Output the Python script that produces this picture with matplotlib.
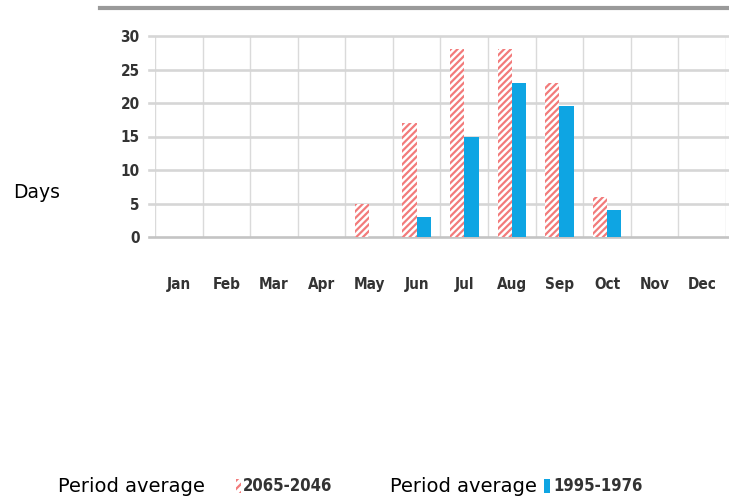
import matplotlib as mpl
from matplotlib import pyplot as plt
from matplotlib.patches import Rectangle
import numpy as np

mpl.rcParams['hatch.linewidth'] = 1.6

# data
months = ['Jan', 'Feb', 'Mar', 'Apr', 'May', 'Jun', 'Jul', 'Aug', 'Sep', 'Oct', 'Nov', 'Dec']
future = [0, 0, 0, 0, 5, 17, 28, 28, 23, 6, 0, 0]      # 2065-2046
past = [0, 0, 0, 0, 0, 3, 15, 23, 19.5, 4, 0, 0]       # 1995-1976
yticks = [0, 5, 10, 15, 20, 25, 30]

pink = '#f27b7b'
blue = '#0ea5e3'
txt = '#333333'
narrow = dict(family='DejaVu Sans', stretch='condensed', fontweight='bold', color=txt)

fig = plt.figure(figsize=(7.29, 4.97), dpi=100)
ax = fig.add_axes([155/729, 260/497, 571/729, 201/497])

x = np.arange(len(months))
w = 0.3
fut = np.array(future)
pas = np.array(past)
m1 = fut > 0
m2 = pas > 0
ax.bar(x[m1] - w/2, fut[m1], w, facecolor='white', edgecolor=pink,
       hatch='/////', linewidth=0, zorder=3)
ax.bar(x[m2] + w/2, pas[m2], w, color=blue, linewidth=0, zorder=3)

ax.set_xlim(-0.5, len(months) - 0.5)
ax.set_ylim(0, 30)
ax.set_yticks(yticks)
ax.set_yticklabels([str(v) for v in yticks], fontsize=11, **narrow)
ax.set_xticks(x)
ax.set_xticklabels(months, fontsize=11, **narrow)
ax.tick_params(axis='x', length=0, pad=29)
ax.tick_params(axis='y', length=0, pad=11)

for s in ax.spines.values():
    s.set_visible(False)

# grid
for b in np.arange(-0.5, len(months), 1):
    ax.axvline(b, color='#dadada', lw=1, zorder=1)
for v in yticks:
    ax.plot([-0.62, 12.55], [v, v], color='#d6d6d6' if v else '#c4c4c4',
            lw=1.9, zorder=2, clip_on=False)

# top rule
fig.add_artist(plt.Line2D([100/729, 1], [1 - 8/497, 1 - 8/497], color='#9a9a9a', lw=3))

fig.text(13/729, 1 - 192/497, 'Days', fontsize=13.5, family=['DejaVu Sans'], va='center')

# legend
ly = 1 - 486/497
fig.text(58/729, ly, 'Period average', fontsize=14, family=['DejaVu Sans'], va='center')
fig.add_artist(Rectangle((236/729, ly - 0.014), 5/729, 0.028, transform=fig.transFigure,
                         facecolor='white', edgecolor=pink, hatch='////', lw=0))
fig.text(243/729, ly, '2065-2046', fontsize=12, va='center', **narrow)
fig.text(390/729, ly, 'Period average', fontsize=14, family=['DejaVu Sans'], va='center')
fig.add_artist(Rectangle((544/729, ly - 0.014), 6/729, 0.028, transform=fig.transFigure,
                         facecolor=blue, lw=0))
fig.text(553/729, ly, '1995-1976', fontsize=12, va='center', **narrow)

fig.savefig('out.png', dpi=100)
